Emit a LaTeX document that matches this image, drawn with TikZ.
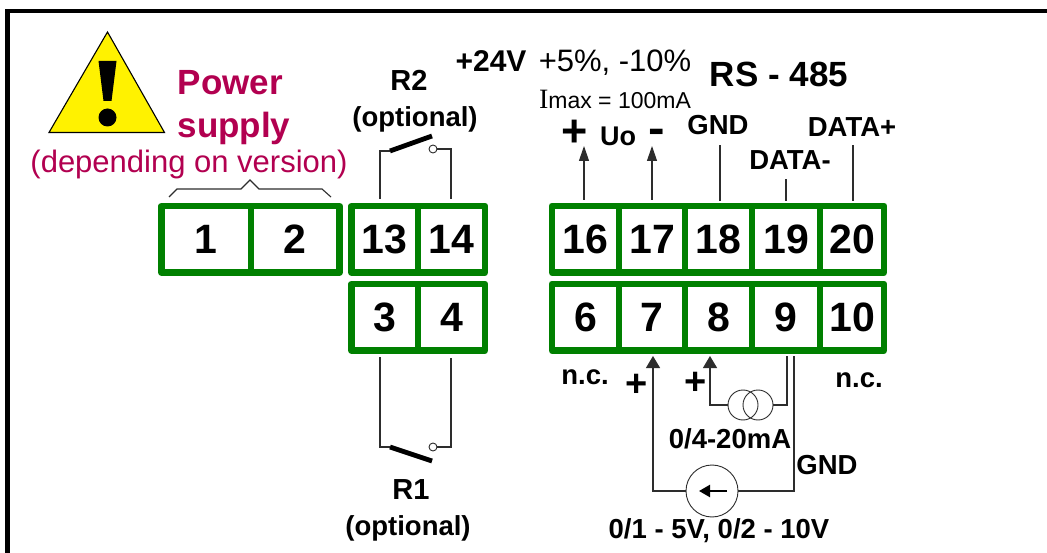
\documentclass[tikz,border=0pt]{standalone}
\usepackage{fontspec}
\usepackage{graphicx}
\setmainfont{Liberation Sans}
\newfontfamily\serifimax{Liberation Serif}
\usetikzlibrary{arrows.meta}
\definecolor{termgreen}{RGB}{0,128,0}
\definecolor{powerred}{RGB}{178,0,80}
\definecolor{wiregray}{RGB}{45,45,45}
\tikzset{
  x=1pt,y=-1pt,
  lab/.style={inner sep=0pt,font=\fontsize{27.5}{28}\selectfont\bfseries,anchor=center},
  wire/.style={draw=wiregray,line width=1.15pt},
  arrowwire/.style={wire,-{Stealth[length=15pt,width=10pt,inset=0pt]}},
  arrowlow/.style={wire,-{Stealth[length=12pt,width=14pt,inset=0pt]}},
  contact/.style={draw=wiregray,line width=.9pt,circle,inner sep=0pt,minimum size=8pt,fill=white},
  blade/.style={line width=4.8pt,black},
  srccircle/.style={draw=wiregray,line width=.9pt,circle,inner sep=0pt},
}
\newcommand{\cell}[6]{% name, x0, y0, x1, y1, text
  \draw[termgreen,line width=6.6pt,line join=round] (#2,#3) rectangle (#4,#5);
  \node[inner sep=0pt,font=\fontsize{41}{41}\selectfont\bfseries] (#1) at ({(#2+#4)/2},{(#3+#5)/2}) {#6};
}
\begin{document}
\begin{tikzpicture}
\useasboundingbox (0,0) rectangle (1047,553);
\fill[white] (0,0) rectangle (1047,553);
% frame
\draw[black,line width=4.5pt] (7.5,553) -- (7.5,11) -- (1047,11);
% warning
\draw[black,line width=1.1pt,fill=yellow,line join=miter] (107.5,32) -- (164.5,132.5) -- (49,132.5) -- cycle;
\fill[black] (98.5,61) -- (116.5,61) -- (111.5,101) -- (103.5,101) -- cycle;
\fill[black] (107.5,117.5) circle (9pt);
% power
\node[lab,font=\fontsize{35}{35}\selectfont\bfseries,text=powerred] (pw) at (230.5,83) {Power};
\node[lab,font=\fontsize{35}{35}\selectfont\bfseries,text=powerred] (sp) at (234,128) {supply};
\node[lab,font=\fontsize{31}{31}\selectfont,text=powerred] (dep) at (189,164) {(depending on version)};
% brace
\draw[wire,line width=1.1pt] (169,197) -- (177,189) -- (241,189) -- (250,180) -- (259,189) -- (322,189) -- (331,197);
% terminals
\cell{t1}{161.5}{206}{251}{272.5}{1}
\cell{t2}{251}{206}{339.5}{272.5}{2}
\cell{t13}{351.5}{206}{418}{272.5}{13}
\cell{t14}{418}{206}{485}{272.5}{14}
\cell{t3}{351.5}{284}{418}{350.5}{3}
\cell{t4}{418}{284}{485}{350.5}{4}
\cell{t16}{552}{206}{619}{272.5}{16}
\cell{t17}{619}{206}{685}{272.5}{17}
\cell{t18}{685}{206}{752}{272.5}{18}
\cell{t19}{752}{206}{820}{272.5}{19}
\cell{t20}{820}{206}{884}{272.5}{20}
\cell{t6}{552}{284}{619}{350.5}{6}
\cell{t7}{619}{284}{685}{350.5}{7}
\cell{t8}{685}{284}{752}{350.5}{8}
\cell{t9}{752}{284}{820}{350.5}{9}
\cell{t10}{820}{284}{884}{350.5}{10}
% R2
\node[lab,font=\fontsize{29}{29}\selectfont\bfseries] (r2) at (409,80) {R2};
\node[lab] (r2o) at (415,119) {(optional)};
\coordinate (r2a) at (380,199);
\coordinate (r2b) at (451,199);
\coordinate (r2c) at (433,149);
\coordinate (r2d) at (390,151);
\draw[wire] (r2a) |- (r2d);
\draw[wire] (r2b) |- (r2c);
\node[contact] (r2k) at (r2c) {};
\draw[blade] (r2d) -- (432,136);
% R1
\node[lab,font=\fontsize{29}{29}\selectfont\bfseries] (r1) at (411,490) {R1};
\node[lab] (r1o) at (408,528) {(optional)};
\coordinate (r1a) at (380,357);
\coordinate (r1b) at (451,358);
\coordinate (r1c) at (433,447);
\coordinate (r1d) at (390,447);
\draw[wire] (r1a) |- (r1d);
\draw[wire] (r1b) |- (r1c);
\node[contact] (r1k) at (r1c) {};
\draw[blade] (r1d) -- (432,461);
% top texts
\node[lab,font=\fontsize{30}{30}\selectfont\bfseries] (v24) at (491,61) {+24V};
\node[inner sep=0pt,font=\fontsize{31}{31}\selectfont] (pct) at (615,63) {+5\%, -10\%};
\node[inner sep=0pt,font=\fontsize{23}{23}\selectfont] (imax) at (615,99) {{\serifimax\fontsize{28}{28}\selectfont I}max = 100mA};
\node[lab,font=\fontsize{35}{35}\selectfont\bfseries] (rs) at (779,74) {RS - 485};
\node[lab,font=\fontsize{45}{45}\selectfont\bfseries] (plus) at (575,133) {+};
\node[lab,font=\fontsize{32}{32}\selectfont\bfseries,anchor=base] (minus) at (657,144) {\scalebox{1.55}[1.4]{-}};
\node[lab,font=\fontsize{27}{27}\selectfont\bfseries] (uo) at (618,136) {Uo};
\node[lab] (gnd) at (718,125) {GND};
\node[lab] (dm) at (790,160) {DATA-};
\node[lab] (dp) at (852,127) {DATA+};
% top wires
\coordinate (a16) at (584,200);
\coordinate (a16e) at (584,146);
\coordinate (a17) at (652,200);
\coordinate (a17e) at (652,146);
\draw[arrowwire] (a16) -- (a16e);
\draw[arrowwire] (a17) -- (a17e);
\coordinate (w18a) at (720,201); \coordinate (w18b) at (720,145);
\coordinate (w19a) at (786,201); \coordinate (w19b) at (786,179);
\coordinate (w20a) at (853,201); \coordinate (w20b) at (853,145);
\draw[wire] (w18a) -- (w18b);
\draw[wire] (w19a) -- (w19b);
\draw[wire] (w20a) -- (w20b);
% bottom labels
\node[lab] (nc1) at (585,377) {n.c.};
\node[lab] (nc2) at (859,380) {n.c.};
\node[lab,font=\fontsize{38}{38}\selectfont\bfseries] (p7) at (637,385) {+};
\node[lab,font=\fontsize{38}{38}\selectfont\bfseries] (p8) at (696,383) {+};
\node[lab] (ma) at (730,439) {0/4-20mA};
\node[lab] (gb) at (827,465) {GND};
\node[lab] (vl) at (719,531) {0/1 - 5V, 0/2 - 10V};
% current source
\node[srccircle,minimum size=30pt] (c1) at (743,405) {};
\node[srccircle,minimum size=30pt] (c2) at (758,405) {};
\coordinate (w8) at (710,356);
\coordinate (w9t) at (787,356);
\draw[arrowlow] (c1.west) -| (w8);
\draw[wire] (c2.east) -| (w9t);
% voltage source
\node[srccircle,minimum size=52pt] (vs) at (712,491) {};
\coordinate (w7) at (653,356);
\coordinate (wg) at (794,356);
\draw[arrowlow] (vs.west) -| (w7);
\draw[wire] (vs.east) -| (wg);
\coordinate (vtail) at (727,491);
\coordinate (vtip) at (699,491);
\draw[black,line width=2.2pt,-{Stealth[length=11pt,width=12pt,inset=0pt]}] (vtail) -- (vtip);
\end{tikzpicture}
\end{document}
